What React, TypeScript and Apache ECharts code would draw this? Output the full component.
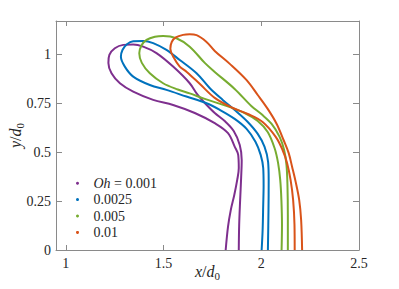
import React, { useEffect, useRef } from 'react';
import * as echarts from 'echarts';

const ohLabels = ['0.001', '0.0025', '0.005', '0.01'];
const seriesColors = ['#7E2F8E', '#0072BD', '#77AC30', '#D95319'];
const xTicks = [1, 1.5, 2, 2.5];
const yTicks = [0, 0.25, 0.5, 0.75, 1];

// droplet contours [x/d0, y/d0], from inner foot, round the lobe, to outer foot
const shapeOh0010 = [
  [1.818, 0], [1.830, 0.119], [1.844, 0.204], [1.862, 0.281], [1.877, 0.358], [1.885, 0.419],
  [1.882, 0.486], [1.864, 0.528], [1.830, 0.597], [1.762, 0.648], [1.660, 0.700], [1.549, 0.741],
  [1.447, 0.767], [1.345, 0.809], [1.277, 0.852], [1.234, 0.903], [1.218, 0.956], [1.223, 0.997],
  [1.251, 1.031], [1.294, 1.048], [1.345, 1.050], [1.396, 1.039], [1.464, 1.006], [1.549, 0.937],
  [1.634, 0.852], [1.675, 0.792], [1.716, 0.746], [1.762, 0.700], [1.813, 0.659], [1.859, 0.608],
  [1.890, 0.537], [1.900, 0.460], [1.897, 0.368], [1.892, 0.256], [1.887, 0.128], [1.885, 0],
];
const shapeOh0025 = [
  [2.002, 0], [2.007, 0.102], [2.010, 0.230], [2.012, 0.332], [2.010, 0.419], [1.997, 0.486],
  [1.971, 0.552], [1.925, 0.619], [1.864, 0.670], [1.788, 0.716], [1.720, 0.750], [1.617, 0.784],
  [1.515, 0.818], [1.430, 0.843], [1.345, 0.886], [1.302, 0.937], [1.282, 0.987], [1.290, 1.022],
  [1.313, 1.051], [1.345, 1.066], [1.396, 1.068], [1.447, 1.057], [1.515, 1.022], [1.583, 0.971],
  [1.669, 0.903], [1.736, 0.828], [1.803, 0.767], [1.869, 0.711], [1.931, 0.654], [1.982, 0.593],
  [2.017, 0.527], [2.035, 0.450], [2.038, 0.358], [2.037, 0.204], [2.034, 0],
];
const shapeOh0050 = [
  [2.104, 0], [2.106, 0.128], [2.103, 0.256], [2.097, 0.358], [2.086, 0.445], [2.068, 0.521],
  [2.033, 0.603], [1.982, 0.659], [1.915, 0.700], [1.813, 0.739], [1.711, 0.772], [1.634, 0.800],
  [1.573, 0.820], [1.498, 0.852], [1.430, 0.903], [1.389, 0.956], [1.376, 1.005], [1.387, 1.045],
  [1.413, 1.074], [1.456, 1.090], [1.498, 1.094], [1.566, 1.082], [1.634, 1.039], [1.711, 0.956],
  [1.762, 0.910], [1.864, 0.823], [1.949, 0.736], [2.002, 0.693], [2.053, 0.644], [2.094, 0.578],
  [2.117, 0.511], [2.129, 0.435], [2.134, 0.332], [2.136, 0.179], [2.136, 0],
];
const shapeOh0100 = [
  [2.171, 0], [2.170, 0.128], [2.163, 0.256], [2.150, 0.358], [2.132, 0.445], [2.109, 0.511],
  [2.074, 0.578], [2.007, 0.654], [1.931, 0.695], [1.849, 0.728], [1.762, 0.777], [1.685, 0.849],
  [1.619, 0.910], [1.583, 0.937], [1.553, 0.982], [1.535, 1.028], [1.542, 1.063], [1.563, 1.086],
  [1.600, 1.099], [1.634, 1.102], [1.669, 1.098], [1.720, 1.063], [1.762, 1.017], [1.839, 0.951],
  [1.924, 0.869], [1.982, 0.792], [2.033, 0.721], [2.079, 0.644], [2.114, 0.562], [2.140, 0.496],
  [2.158, 0.424], [2.176, 0.348], [2.194, 0.256], [2.204, 0.153], [2.209, 0],
];
const shapes = [shapeOh0010, shapeOh0025, shapeOh0050, shapeOh0100];

export default function App() {
  const ref = useRef<HTMLDivElement>(null);

  useEffect(() => {
    const chart = echarts.init(ref.current as HTMLDivElement, null, { renderer: 'svg' });
    const font = 'Liberation Serif';
    const axisColor = '#8a8a8a';
    const textColor = '#262626';
    const nameRich = {
      i: { fontFamily: font, fontStyle: 'italic', fontSize: 16, color: textColor, lineHeight: 20 },
      s: { fontFamily: font, fontSize: 11, color: textColor, lineHeight: 14, verticalAlign: 'bottom' },
    };
    const line = { show: true, onZero: false, lineStyle: { color: axisColor, width: 1 } };

    chart.setOption({
      animation: false,
      backgroundColor: '#ffffff',
      grid: { left: 56, right: 40, top: 21, bottom: 39, containLabel: false, outerBoundsMode: 'none' },
      legend: {
        orient: 'vertical',
        left: 71,
        top: 170,
        itemWidth: 22,
        itemHeight: 3,
        itemGap: 0,
        icon: 'circle',
        selectedMode: false,
        data: ohLabels,
        formatter: (n: string) => (n === ohLabels[0] ? '{i|Oh} = ' + n : n),
        textStyle: {
          fontFamily: font,
          fontSize: 14,
          color: textColor,
          lineHeight: 16.4,
          rich: { i: { fontFamily: font, fontStyle: 'italic', fontSize: 14, color: textColor, lineHeight: 16.4 } },
        },
      },
      xAxis: [
        {
          type: 'value', min: 0.95, max: 2.5, position: 'bottom',
          axisLine: line,
          axisTick: { show: true, inside: true, length: 5, customValues: xTicks, lineStyle: { color: axisColor } },
          axisLabel: { show: true, customValues: xTicks, color: textColor, fontFamily: font, fontSize: 14, margin: 6 },
          splitLine: { show: false },
          name: '{i|x}/{i|d}{s|0}', nameLocation: 'middle', nameGap: 11, nameMoveOverlap: false,
          nameTextStyle: { fontFamily: font, fontSize: 16, color: textColor, lineHeight: 20, rich: nameRich },
        },
        {
          type: 'value', min: 0.95, max: 2.5, position: 'top',
          axisLine: line,
          axisTick: { show: true, inside: true, length: 5, customValues: xTicks, lineStyle: { color: axisColor } },
          axisLabel: { show: false },
          splitLine: { show: false },
        },
      ],
      yAxis: [
        {
          type: 'value', min: 0, max: 1.17, position: 'left',
          axisLine: line,
          axisTick: { show: true, inside: true, length: 6, customValues: yTicks, lineStyle: { color: axisColor } },
          axisLabel: { show: true, customValues: yTicks, color: textColor, fontFamily: font, fontSize: 14, margin: 5 },
          splitLine: { show: false },
          name: '{i|y}/{i|d}{s|0}', nameLocation: 'middle', nameGap: 31, nameMoveOverlap: false,
          nameTextStyle: { fontFamily: font, fontSize: 16, color: textColor, lineHeight: 20, rich: nameRich },
        },
        {
          type: 'value', min: 0, max: 1.17, position: 'right',
          axisLine: line,
          axisTick: { show: true, inside: true, length: 6, customValues: yTicks, lineStyle: { color: axisColor } },
          axisLabel: { show: false },
          splitLine: { show: false },
        },
      ],
      series: shapes.map((pts, k) => ({
        name: ohLabels[k],
        type: 'line',
        xAxisIndex: 0,
        yAxisIndex: 0,
        data: pts,
        smooth: 0.35,
        showSymbol: false,
        symbol: 'circle',
        color: seriesColors[k],
        lineStyle: { color: seriesColors[k], width: 2 },
        emphasis: { disabled: true },
      })),
    });

    return () => chart.dispose();
  }, []);

  return <div ref={ref} style={{ position: 'fixed', left: 0, top: 0, width: 399, height: 289 }} />;
}
